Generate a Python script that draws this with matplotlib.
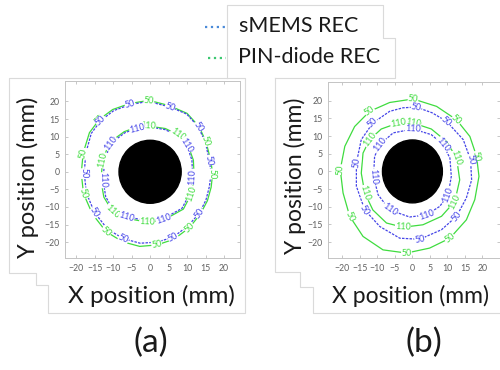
import numpy as np
import matplotlib
matplotlib.use("Agg")
import matplotlib.pyplot as plt
from matplotlib.patches import Ellipse

plt.rcParams['font.family'] = ['Lato', 'DejaVu Sans']

# tick positions (mm)
ticks = [-20, -15, -10, -5, 0, 5, 10, 15, 20]

# ---------------- panel (a) contours (mm) ----------------
a_blue50_x = [-0.5, 5.4, 9.9, 13.0, 14.9, 16.0, 16.5, 16.0, 15.1, 13.3, 10.2, 6.2, 1.8, -2.7, -7.2, -11.5, -15.0, -17.2, -17.8, -17.4, -15.9, -13.3, -9.8, -5.4]
a_blue50_y = [20.0, 18.4, 16.4, 12.8, 8.5, 3.3, -0.5, -4.3, -8.0, -11.8, -15.4, -18.6, -20.0, -20.3, -19.0, -16.3, -11.6, -6.1, -0.5, 5.2, 10.9, 14.6, 17.4, 19.1]
a_green50_x = [-0.3, 5.2, 10.0, 13.2, 15.1, 16.4, 16.9, 16.5, 15.5, 13.6, 10.6, 6.4, 1.8, -2.8, -7.4, -11.9, -15.6, -18.0, -18.6, -18.1, -16.4, -13.7, -10.1, -5.5]
a_green50_y = [20.3, 18.8, 16.6, 12.9, 8.6, 3.2, -0.6, -4.4, -8.2, -12.0, -15.9, -19.2, -20.8, -21.2, -19.9, -17.0, -12.0, -6.2, -0.4, 5.3, 11.1, 14.9, 17.7, 19.4]
a_blue110_x = [-0.5, 4.0, 7.2, 9.9, 11.3, 11.5, 10.8, 8.6, 3.6, -0.8, -6.3, -9.9, -12.0, -12.7, -12.3, -10.6, -6.8, -3.5]
a_blue110_y = [12.8, 12.0, 10.4, 7.6, 3.3, -1.4, -6.1, -10.4, -13.3, -13.9, -12.8, -10.9, -7.1, -2.4, 3.3, 8.1, 11.1, 12.4]
a_green110_x = [-0.5, 4.1, 7.5, 10.2, 11.7, 11.9, 11.2, 9.0, 3.7, -0.8, -6.5, -10.2, -12.5, -13.3, -12.8, -11.0, -7.0, -3.6]
a_green110_y = [13.0, 12.3, 10.6, 7.7, 3.3, -1.4, -6.2, -10.6, -13.7, -14.3, -13.2, -11.2, -7.2, -2.4, 3.3, 8.3, 11.4, 12.7]

# ---------------- panel (b) contours (mm) ----------------
b_blue50_x = [1.1, 5.6, 9.7, 14.5, 16.6, 16.9, 15.4, 12.6, 8.3, 2.1, -3.6, -9.3, -13.6, -16.0, -16.0, -14.6, -11.3, -6.5, -2.7]
b_blue50_y = [18.2, 16.6, 14.2, 9.0, 3.3, -2.4, -7.5, -12.7, -16.5, -19.2, -18.9, -15.6, -10.9, -4.2, 2.4, 9.0, 13.7, 17.0, 18.0]
b_green50_x = [0.2, 6.9, 12.6, 16.4, 18.3, 19.0, 17.8, 15.4, 10.7, 4.9, -1.7, -8.4, -14.1, -17.9, -19.8, -20.6, -19.3, -16.5, -12.2, -6.5]
b_green50_y = [20.5, 18.4, 14.6, 9.9, 4.3, -1.4, -8.0, -13.7, -18.9, -21.7, -23.1, -22.2, -18.4, -12.7, -6.1, 0.5, 7.1, 12.7, 17.0, 19.5]
b_blue110_x = [0.2, 5.4, 8.7, 10.7, 11.1, 10.2, 7.8, 4.0, -0.8, -6.5, -9.8, -11.1, -10.8, -9.3, -5.5]
b_blue110_y = [12.0, 10.4, 7.6, 3.8, -1.4, -6.6, -9.9, -12.3, -12.9, -10.9, -6.6, -1.4, 4.2, 7.6, 10.9]
b_green110_x = [0.2, 5.4, 9.7, 12.6, 13.5, 12.1, 8.3, 3.0, -2.7, -7.4, -11.3, -13.6, -14.6, -14.1, -12.2, -8.9, -4.1]
b_green110_y = [13.7, 12.0, 8.5, 3.8, -2.4, -8.5, -12.7, -15.1, -15.8, -14.6, -10.9, -6.1, -0.5, 5.2, 9.0, 12.0, 13.7]

# contour label positions (point index on each contour)
a_blue50_lab = [23, 1, 3, 5, 9, 11, 14, 16, 18, 21]
a_green50_lab = [0, 4, 6, 10, 12, 15, 17, 19, 21]
a_blue110_lab = [17, 3, 5, 8, 10, 13, 15]
a_green110_lab = [0, 2, 6, 9, 11, 14]
b_blue50_lab = [0, 2, 4, 7, 9, 12, 14, 16]
b_green50_lab = [0, 2, 4, 8, 10, 13, 15, 18]
b_blue110_lab = [0, 2, 5, 7, 9, 11, 13]
b_green110_lab = [0, 3, 5, 8, 11, 14, 16]

BLUE = '#4545e8'
GREEN = '#3fdc3f'
TXT = '#1a1a1a'

fig = plt.figure(figsize=(5.0, 3.7), dpi=100)

# overlay in pixel coordinates for the composite frames, legend and captions
bg = fig.add_axes([0, 0, 1, 1], zorder=-1)
bg.set_xlim(0, 500)
bg.set_ylim(370, 0)
bg.axis('off')

frame_col = '#dadada'
frames = [
    [(227, 78), (9, 78), (9, 273), (36, 273), (36, 285), (48, 285), (48, 313), (245, 313), (245, 78), (227, 78)],
    [(227, 78), (227, 5), (383, 5), (383, 38), (395, 38), (395, 78), (275, 78)],
    [(275, 78), (275, 272), (300, 272), (300, 287), (313, 287), (313, 313), (500, 313)],
]
for f in frames:
    fx, fy = zip(*f)
    bg.plot(fx, fy, color=frame_col, lw=0.8)

# legend
bg.plot([205, 226], [27, 27], ls=':', color='#4a8ad8', lw=1.6)
bg.plot([208, 226], [58, 58], ls=':', color='#3cc870', lw=1.6)
bg.text(299, 26, 'sMEMS REC', fontsize=15.5, ha='center', va='center', color=TXT)
bg.text(309, 57, 'PIN-diode REC', fontsize=15.5, ha='center', va='center', color=TXT)

# captions
bg.text(28, 177, 'Y position (mm)', rotation=90, fontsize=17, ha='center', va='center', color=TXT)
bg.text(151, 296, 'X position (mm)', fontsize=17.5, ha='center', va='center', color=TXT)
bg.text(295, 176, 'Y position (mm)', rotation=90, fontsize=16.5, ha='center', va='center', color=TXT)
bg.text(410, 296, 'X position (mm)', fontsize=16.5, ha='center', va='center', color=TXT)
bg.text(151, 343, '(a)', fontsize=24, ha='center', va='center', color=TXT)
bg.text(424, 343, '(b)', fontsize=24, ha='center', va='center', color=TXT)


def style_axes(ax):
    ax.set_xticks(ticks)
    ax.set_yticks(ticks)
    for s in ax.spines.values():
        s.set_color('#c4c4c4')
        s.set_linewidth(0.7)
    ax.tick_params(direction='in', length=2, width=0.5, color='#b0b0b0',
                   labelsize=6.3, labelcolor='#606060', top=True, right=True, pad=4)


def draw_contour(ax, xs, ys, labidx, text, color, ls):
    xs = list(xs) + [xs[0]]
    ys = list(ys) + [ys[0]]
    ax.plot(xs, ys, color=color, lw=0.9, ls=ls, zorder=2)
    n = len(xs) - 1
    for i in labidx:
        p0 = ax.transData.transform((xs[(i - 1) % n], ys[(i - 1) % n]))
        p1 = ax.transData.transform((xs[(i + 1) % n], ys[(i + 1) % n]))
        ang = np.degrees(np.arctan2(p1[1] - p0[1], p1[0] - p0[0]))
        if ang > 90:
            ang -= 180
        if ang < -90:
            ang += 180
        ax.text(xs[i], ys[i], text, color=color, fontsize=6.5, rotation=ang,
                rotation_mode='anchor', ha='center', va='center', zorder=3,
                bbox=dict(boxstyle='square,pad=0.02', fc='white', ec='none'))


# panel (a)
ax_a = fig.add_axes([65 / 500, 1 - 258 / 370, 175 / 500, 177 / 370])
ax_a.set_xlim(-23.0, 24.3)
ax_a.set_ylim(-24.5, 25.8)
style_axes(ax_a)
ax_a.add_patch(Ellipse((0, 0), 16.8, 17.9, color='black', zorder=1))
draw_contour(ax_a, a_green50_x, a_green50_y, a_green50_lab, '50', GREEN, '-')
draw_contour(ax_a, a_blue50_x, a_blue50_y, a_blue50_lab, '50', BLUE, (0, (2, 1)))
draw_contour(ax_a, a_green110_x, a_green110_y, a_green110_lab, '110', GREEN, '-')
draw_contour(ax_a, a_blue110_x, a_blue110_y, a_blue110_lab, '110', BLUE, (0, (2, 1)))

# panel (b)
ax_b = fig.add_axes([328 / 500, 1 - 258 / 370, 172 / 500, 176 / 370])
ax_b.set_xlim(-24.1, 25.0)
ax_b.set_ylim(-24.5, 25.3)
style_axes(ax_b)
ax_b.add_patch(Ellipse((0, 0), 17.1, 17.8, color='black', zorder=1))
draw_contour(ax_b, b_green50_x, b_green50_y, b_green50_lab, '50', GREEN, '-')
draw_contour(ax_b, b_blue50_x, b_blue50_y, b_blue50_lab, '50', BLUE, (0, (2, 1)))
draw_contour(ax_b, b_green110_x, b_green110_y, b_green110_lab, '110', GREEN, '-')
draw_contour(ax_b, b_blue110_x, b_blue110_y, b_blue110_lab, '110', BLUE, (0, (2, 1)))

fig.savefig('out.png', dpi=100)
